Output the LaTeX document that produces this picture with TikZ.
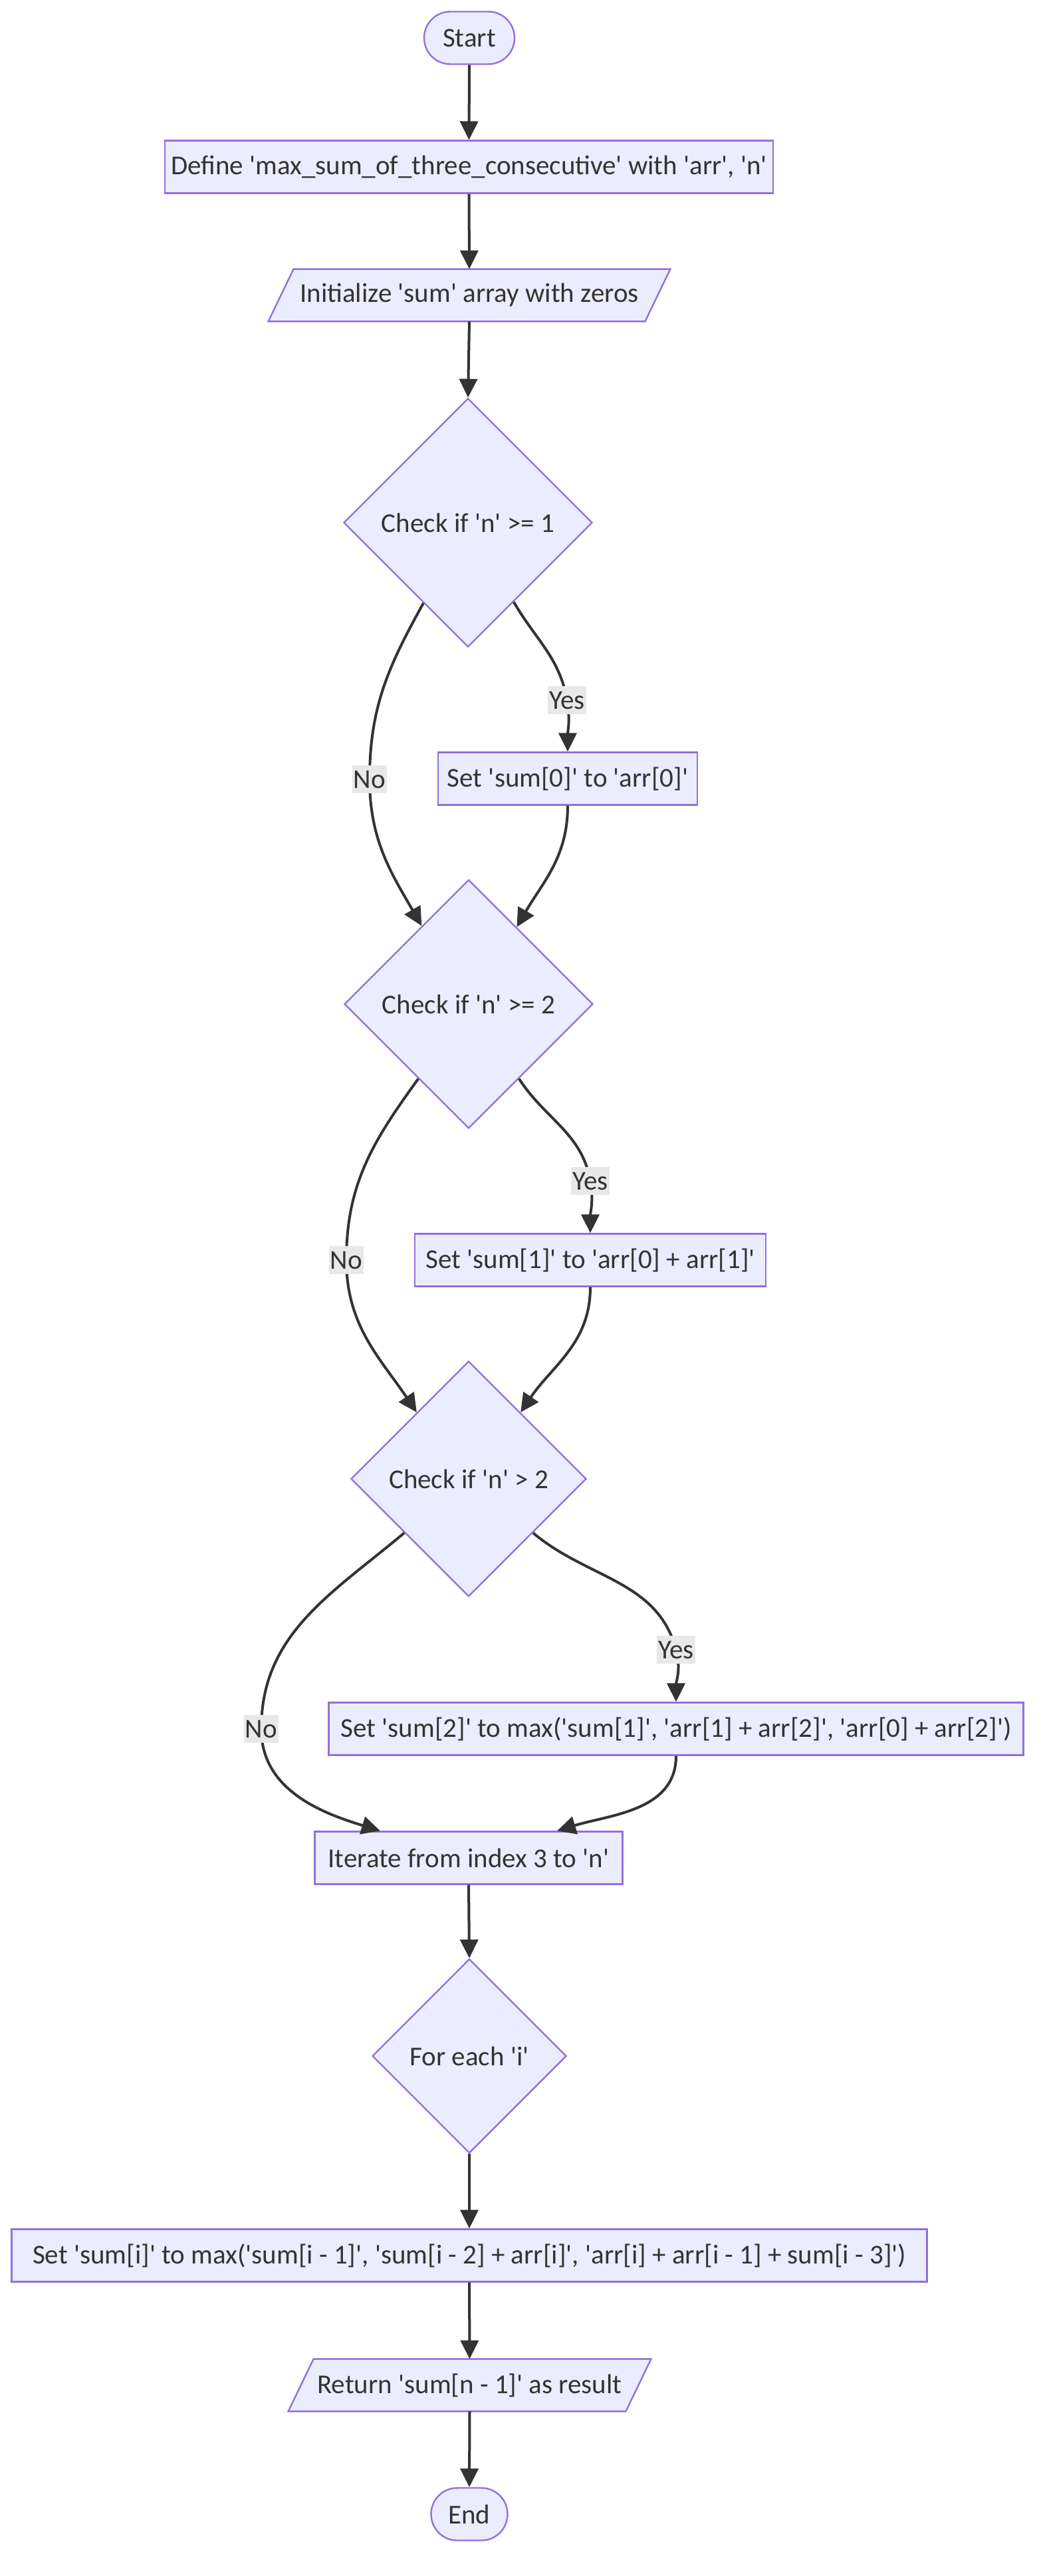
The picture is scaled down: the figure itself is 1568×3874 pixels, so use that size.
\documentclass[tikz,border=0pt]{standalone}
\usepackage{fontspec}
\setmainfont{Carlito}
\usetikzlibrary{arrows.meta,shapes.geometric,backgrounds}
\definecolor{nodefill}{HTML}{ECECFF}
\definecolor{nodeline}{HTML}{9370DB}
\definecolor{ink}{HTML}{333333}
\definecolor{lblbg}{HTML}{E8E8E8}
\newcommand{\sq}{\textquotesingle}
\begin{document}
\begin{tikzpicture}[x=0.5pt,y=0.5pt,
  every node/.style={text=ink, font=\fontsize{20.5}{24.6}\selectfont},
  proc/.style={draw=nodeline, fill=nodefill, line width=1.2pt, inner sep=0pt, minimum height=39.5pt},
  term/.style={proc, rounded corners=19.7pt},
  dec/.style={diamond, draw=nodeline, fill=nodefill, line width=1.2pt, inner sep=0pt},
  io/.style={inner sep=0pt, minimum height=39pt},
  iofill/.style={draw=nodeline, fill=nodefill, line width=1.2pt},
  lbl/.style={fill=lblbg, inner xsep=1pt, inner ysep=0pt, minimum height=21pt},
  flow/.style={draw=ink, line width=2pt, -{Triangle[length=14pt,width=13.5pt]}},
]
\useasboundingbox (0,0) rectangle (1568,-3874);

% nodes
\node[term, minimum width=68pt] (start) at (706,-57) {Start};
\node[proc, minimum width=457.5pt] (def) at (705.5,-251) {Define \sq max\_sum\_of\_three\_consecutive\sq{} with \sq arr\sq, \sq n\sq};
\node[io, minimum width=302pt] (init) at (706,-444) {Initialize \sq sum\sq{} array with zeros};
\node[dec, minimum width=187pt, minimum height=187pt] (d1) at (704,-786) {Check if \sq n\sq{} >= 1};
\node[proc, minimum width=195pt] (s0) at (854,-1171) {Set \sq sum[0]\sq{} to \sq arr[0]\sq};
\node[dec, minimum width=187pt, minimum height=187pt] (d2) at (705,-1510) {Check if \sq n\sq{} >= 2};
\node[proc, minimum width=264pt] (s1) at (888,-1895) {Set \sq sum[1]\sq{} to \sq arr[0] + arr[1]\sq};
\node[dec, minimum width=177pt, minimum height=177pt] (d3) at (705,-2224) {Check if \sq n\sq{} > 2};
\node[proc, minimum width=522.5pt] (s2) at (1017,-2600) {Set \sq sum[2]\sq{} to max(\sq sum[1]\sq, \sq arr[1] + arr[2]\sq, \sq arr[0] + arr[2]\sq)};
\node[proc, minimum width=231.5pt] (it) at (705,-2794) {Iterate from index 3 to \sq n\sq};
\node[dec, minimum width=146pt, minimum height=146pt] (d4) at (706,-3092) {For each \sq i\sq};
\node[proc, minimum width=688.5pt] (si) at (706,-3392) {Set \sq sum[i]\sq{} to max(\sq sum[i - 1]\sq, \sq sum[i - 2] + arr[i]\sq, \sq arr[i] + arr[i - 1] + sum[i - 3]\sq)};
\node[io, minimum width=272.5pt] (ret) at (706.5,-3587) {Return \sq sum[n - 1]\sq{} as result};
\node[term, minimum width=57.5pt] (end) at (706,-3781) {End};

% parallelogram outlines behind the input/output texts
\begin{scope}[on background layer]
  \path[iofill] ([xshift=19pt]init.north west) -- (init.north east) -- ([xshift=-19pt]init.south east) -- (init.south west) -- cycle;
  \path[iofill] ([xshift=19pt]ret.north west) -- (ret.north east) -- ([xshift=-19pt]ret.south east) -- (ret.south west) -- cycle;
\end{scope}

% label positions on the branch connectors
\coordinate (yes1) at (853,-1053);
\coordinate (no1) at (556,-1172);
\coordinate (yes2) at (888,-1776);
\coordinate (no2) at (521,-1895);
\coordinate (yes3) at (1017,-2481);
\coordinate (no3) at (393,-2600);

% straight connectors
\draw[flow] (start.south) -- (def.north);
\draw[flow] (def.south) -- (init.north);
\draw[flow] (init.south) -- (d1.north);
\draw[flow] (it.south) -- (d4.north);
\draw[flow] (d4.south) -- (si.north);
\draw[flow] (si.south) -- (ret.north);
\draw[flow] (ret.south) -- (end.north);

% first check
\draw[flow] (d1.300) to[out=-60, in=100] (yes1) to[out=-80, in=90] (s0.north);
\draw[flow] (d1.241) to[out=241, in=90] (no1) to[out=-90, in=120] (d2.121);
\draw[flow] (s0.south) to[out=-90, in=60] (d2.58);

% second check
\draw[flow] (d2.304) to[out=-57, in=100] (yes2) to[out=-80, in=90] (s1.north);
\draw[flow] (d2.236) to[out=234, in=90] (no2) to[out=-90, in=124] (d3.128);
\draw[flow] (s1.south) to[out=-90, in=56] (d3.52);

% third check
\draw[flow] (d3.320) to[out=-40, in=105] (yes3) to[out=-75, in=90] (s2.north);
\draw[flow] (d3.220) to[out=220, in=90] (no3) to[out=-90, in=163] (it.163);
\draw[flow] (s2.south) to[out=-90, in=17] (it.17);

% branch labels
\node[lbl] at (yes1) {Yes};
\node[lbl] at (no1) {No};
\node[lbl] at (yes2) {Yes};
\node[lbl] at (no2) {No};
\node[lbl] at (yes3) {Yes};
\node[lbl] at (no3) {No};
\end{tikzpicture}
\end{document}
